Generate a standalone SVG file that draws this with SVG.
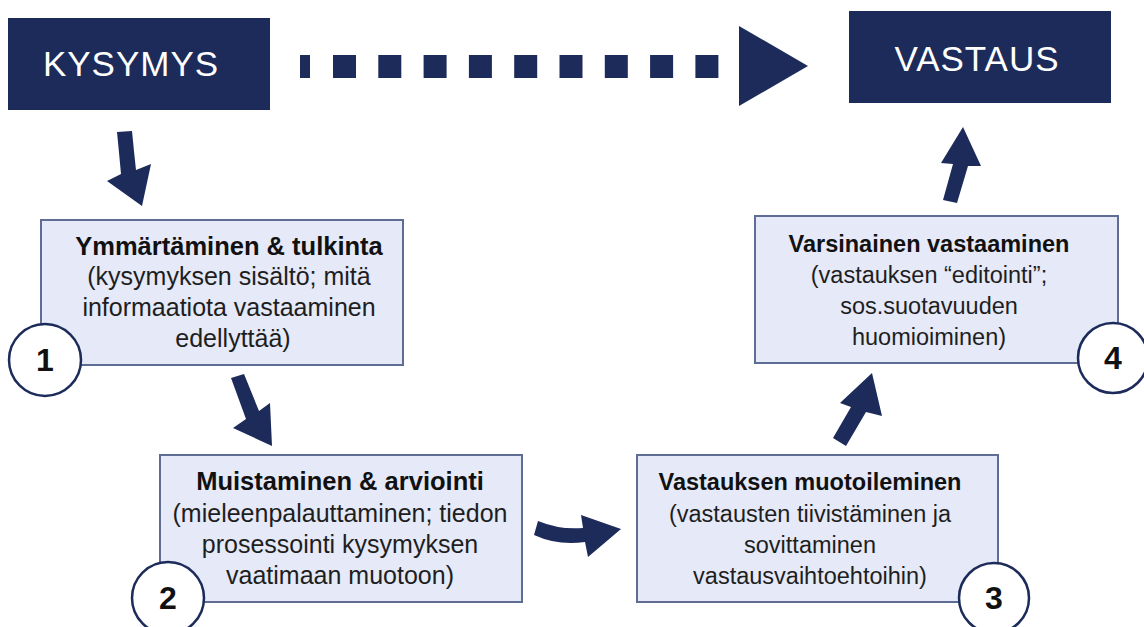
<svg xmlns="http://www.w3.org/2000/svg" width="1144" height="627" viewBox="0 0 1144 627">
  <style>
    .dark { fill: #1c2b5a; }
    .head { fill: #ffffff; font-family: "Liberation Sans", Arial, sans-serif; font-size: 35px; letter-spacing: 1px; text-anchor: middle; }
    .step { fill: #e5e9f8; stroke: #5f6c93; stroke-width: 2; }
    .t { font-family: "Liberation Sans", Arial, sans-serif; font-size: 25px; fill: #1e1e1e; text-anchor: middle; }
    .b { font-weight: bold; font-size: 25.5px; fill: #111111; }
    .sm .t { font-size: 23.5px; }
    .sm .b { font-size: 23.5px; }
    .badge { fill: #ffffff; stroke: #1c2b5a; stroke-width: 2.5; }
    .num { font-family: "Liberation Sans", Arial, sans-serif; font-size: 32px; font-weight: bold; fill: #111111; text-anchor: middle; }
  </style>

  <rect width="1144" height="627" fill="#ffffff"/>

  <!-- connectors -->
  <g id="connectors" class="dark">
    <!-- dotted main arrow -->
    <rect x="300" y="55" width="10" height="23"/>
    <rect x="333" y="55" width="23" height="23"/>
    <rect x="378.3" y="55" width="23" height="23"/>
    <rect x="423.6" y="55" width="23" height="23"/>
    <rect x="468.9" y="55" width="23" height="23"/>
    <rect x="514.2" y="55" width="23" height="23"/>
    <rect x="559.5" y="55" width="23" height="23"/>
    <rect x="604.8" y="55" width="23" height="23"/>
    <rect x="650.1" y="55" width="23" height="23"/>
    <rect x="695.4" y="55" width="23" height="23"/>
    <polygon points="739,26 808,66 739,106"/>
    <!-- block arrows between steps -->
    <path d="M117,132 L132,131 Q134,152 136,170 L151,164 L142,206 L107,181 L121,174 Q119,152 117,132 Z"/>
    <path d="M231,378 L244,374 L259,411 L270,403 L272,446 L233,428 L246,419 Z"/>
    <path d="M538,521 Q560,530 583,528 L581,515 L621,529 L588,557 L585,542 Q558,546 534,535 Z"/>
    <path d="M833,438 L851,407 L840,403 L872,373 L882,416 L866,412 L846,446 Z"/>
    <path d="M943,200 L953,164 L941,163 L963,127 L981,166 L968,166 L957,203 Z"/>
  </g>

  <!-- start and end -->
  <g id="kysymys">
    <rect class="dark" x="8" y="18" width="262" height="92"/>
    <text class="head" x="131" y="76">KYSYMYS</text>
  </g>
  <g id="vastaus">
    <rect class="dark" x="849" y="11" width="262" height="92"/>
    <text class="head" x="977" y="71">VASTAUS</text>
  </g>

  <!-- step 1 -->
  <g id="step1">
    <rect class="step" x="41" y="220" width="362" height="145"/>
    <text class="t b" x="229" y="255">Ymmärtäminen &amp; tulkinta</text>
    <text class="t" x="229" y="285">(kysymyksen sisältö; mitä</text>
    <text class="t" x="229" y="316">informaatiota vastaaminen</text>
    <text class="t" x="233" y="347">edellyttää)</text>
    <circle class="badge" cx="45" cy="360" r="36"/>
    <text class="num" x="45" y="371">1</text>
  </g>

  <!-- step 2 -->
  <g id="step2">
    <rect class="step" x="160" y="455" width="362" height="147"/>
    <text class="t b" x="340" y="490">Muistaminen &amp; arviointi</text>
    <text class="t" x="340" y="522">(mieleenpalauttaminen; tiedon</text>
    <text class="t" x="340" y="553">prosessointi kysymyksen</text>
    <text class="t" x="340" y="584">vaatimaan muotoon)</text>
    <circle class="badge" cx="168" cy="598" r="36"/>
    <text class="num" x="168" y="609">2</text>
  </g>

  <!-- step 3 -->
  <g id="step3" class="sm">
    <rect class="step" x="637" y="455" width="361" height="147"/>
    <text class="t b" x="810" y="490">Vastauksen muotoileminen</text>
    <text class="t" x="810" y="522">(vastausten tiivistäminen ja</text>
    <text class="t" x="810" y="553">sovittaminen</text>
    <text class="t" x="810" y="584">vastausvaihtoehtoihin)</text>
    <circle class="badge" cx="994" cy="598" r="35"/>
    <text class="num" x="994" y="609">3</text>
  </g>

  <!-- step 4 -->
  <g id="step4" class="sm">
    <rect class="step" x="755" y="216" width="363" height="147"/>
    <text class="t b" x="929" y="252">Varsinainen vastaaminen</text>
    <text class="t" x="929" y="283">(vastauksen “editointi”;</text>
    <text class="t" x="929" y="314">sos.suotavuuden</text>
    <text class="t" x="929" y="345">huomioiminen)</text>
    <circle class="badge" cx="1113" cy="358" r="35"/>
    <text class="num" x="1113" y="369">4</text>
  </g>
</svg>
